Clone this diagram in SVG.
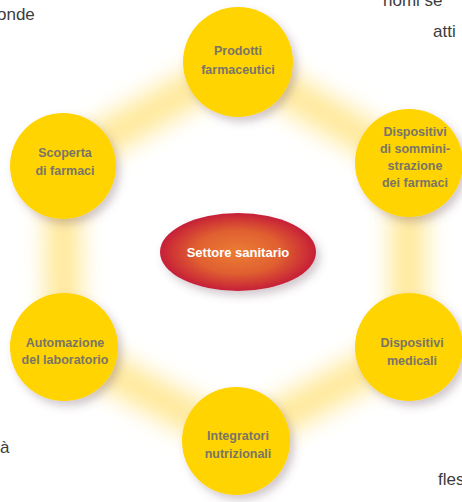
<svg xmlns="http://www.w3.org/2000/svg" width="462" height="502" viewBox="0 0 462 502">
<defs>
<filter id="glow" x="-30%" y="-30%" width="160%" height="160%"><feGaussianBlur stdDeviation="12"/></filter>
<filter id="shadow" x="-30%" y="-30%" width="170%" height="170%">
<feGaussianBlur in="SourceAlpha" stdDeviation="4"/>
<feOffset dx="4" dy="5" result="b"/>
<feFlood flood-color="#6a4a5a" flood-opacity="0.3"/>
<feComposite in2="b" operator="in"/>
<feMerge><feMergeNode/><feMergeNode in="SourceGraphic"/></feMerge>
</filter>
<radialGradient id="red" cx="50%" cy="50%" r="50%">
<stop offset="0" stop-color="#EC7D36"/>
<stop offset="0.55" stop-color="#E0602F"/>
<stop offset="1" stop-color="#C61F38"/>
</radialGradient>
<style>
.c{fill:#FFD400;filter:url(#shadow)}
.t{font-family:"Liberation Sans",Arial,sans-serif;font-weight:bold;font-size:12.5px;fill:#7a7468;text-anchor:middle}
.p{font-family:"Liberation Sans",Arial,sans-serif;font-size:17px;fill:#3c3c3c}
</style>
</defs>
<rect width="462" height="502" fill="#fff"/>
<g id="page-text">
<text class="p" x="-3" y="20">onde</text>
<text class="p" x="383" y="6">nomi se</text>
<text class="p" x="433" y="37">atti</text>
<text class="p" x="0" y="453">à</text>
<text class="p" x="438" y="485">fles</text>
</g>
<g id="connectors">
<path d="M238,62 L408,163 L408,347 L237,441 L64,347 L62,163 Z" fill="none" stroke="#FFE27A" stroke-width="34" stroke-linejoin="round" filter="url(#glow)" opacity="0.8"/>
</g>
<g id="n-prodotti"><circle class="c" cx="238" cy="62" r="55"/><text class="t" x="238" y="55">Prodotti</text><text class="t" x="238" y="74">farmaceutici</text></g>
<g id="n-dispositivi-somm"><circle class="c" cx="409" cy="163" r="54"/><text class="t" x="415" y="136">Dispositivi</text><text class="t" x="415" y="153">di sommini-</text><text class="t" x="415" y="170">strazione</text><text class="t" x="415" y="187">dei farmaci</text></g>
<g id="n-scoperta"><circle class="c" cx="63" cy="166" r="53"/><text class="t" x="65" y="157">Scoperta</text><text class="t" x="65" y="175">di farmaci</text></g>
<g id="n-automazione"><circle class="c" cx="64" cy="347" r="54"/><text class="t" x="65" y="347">Automazione</text><text class="t" x="65" y="364">del laboratorio</text></g>
<g id="n-medicali"><circle class="c" cx="409" cy="347" r="54"/><text class="t" x="412" y="347">Dispositivi</text><text class="t" x="412" y="365">medicali</text></g>
<g id="n-integratori"><circle class="c" cx="236" cy="441" r="54"/><text class="t" x="238" y="440">Integratori</text><text class="t" x="238" y="458">nutrizionali</text></g>
<g id="n-settore"><ellipse cx="238" cy="252" rx="78" ry="39" fill="url(#red)" filter="url(#shadow)"/><text x="238" y="257" font-family="Liberation Sans,Arial,sans-serif" font-weight="bold" font-size="13" fill="#fff" text-anchor="middle">Settore sanitario</text></g>
</svg>
